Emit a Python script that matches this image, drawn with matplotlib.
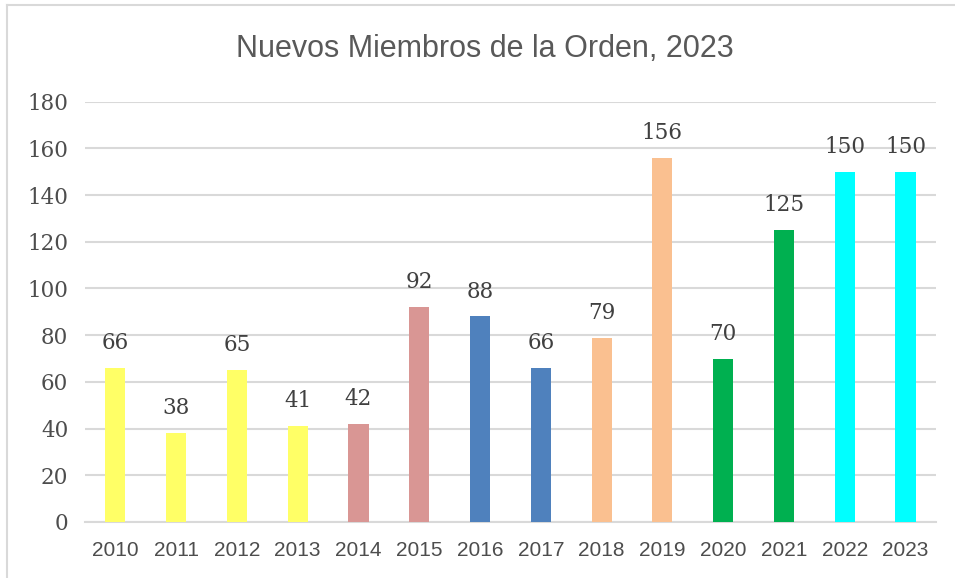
import numpy as np
import matplotlib.pyplot as plt
from matplotlib.lines import Line2D

# Data
years = ['2010', '2011', '2012', '2013', '2014', '2015', '2016',
         '2017', '2018', '2019', '2020', '2021', '2022', '2023']
members = [66, 38, 65, 41, 42, 92, 88, 66, 79, 156, 70, 125, 150, 150]
colors = ['#FFFF66', '#FFFF66', '#FFFF66', '#FFFF66', '#D99694', '#D99694',
          '#4F81BD', '#4F81BD', '#FAC090', '#FAC090', '#00B050', '#00B050',
          '#00FFFF', '#00FFFF']

fig = plt.figure(figsize=(9.55, 5.78), dpi=100)
ax = fig.add_axes([0.089, 0.097, 0.891, 0.727])

x = np.arange(len(years))
bars = ax.bar(x, members, width=0.33, color=colors, zorder=3)

# Value labels above bars
for xi, v in zip(x, members):
    ax.annotate(str(v), (xi, v), xytext=(0, 10), textcoords='offset points',
                ha='center', va='bottom', fontsize=15.5,
                family='DejaVu Serif', color='#404040')

ax.set_ylim(0, 180)
ax.set_yticks(range(0, 181, 20))
ax.set_xlim(-0.5, len(years) - 0.5)
ax.set_xticks(x)
ax.set_xticklabels(years, family='Liberation Sans', fontsize=15, color='#4d4d4d')
for lab in ax.get_yticklabels():
    lab.set_family('DejaVu Serif')
    lab.set_fontsize(15.5)
    lab.set_color('#4d4d4d')

ax.grid(axis='y', color='#D9D9D9', linewidth=1.5, zorder=0)
for s in ['top', 'right', 'left']:
    ax.spines[s].set_visible(False)
ax.spines['bottom'].set_color('#D9D9D9')
ax.spines['bottom'].set_linewidth(1.5)
ax.tick_params(length=0)
ax.tick_params(axis='y', pad=12)
ax.tick_params(axis='x', pad=14)

fig.text(0.508, 0.915, 'Nuevos Miembros de la Orden, 2023', ha='center', va='center',
         family='Liberation Sans', fontsize=22, color='#595959')

# Chart border (left and top edges visible)
fig.add_artist(Line2D([0.007, 0.007], [0.0, 0.991], color='#D9D9D9', lw=1.5,
                      transform=fig.transFigure))
fig.add_artist(Line2D([0.007, 1.0], [0.991, 0.991], color='#D9D9D9', lw=1.5,
                      transform=fig.transFigure))

fig.savefig('out.png', dpi=100)
